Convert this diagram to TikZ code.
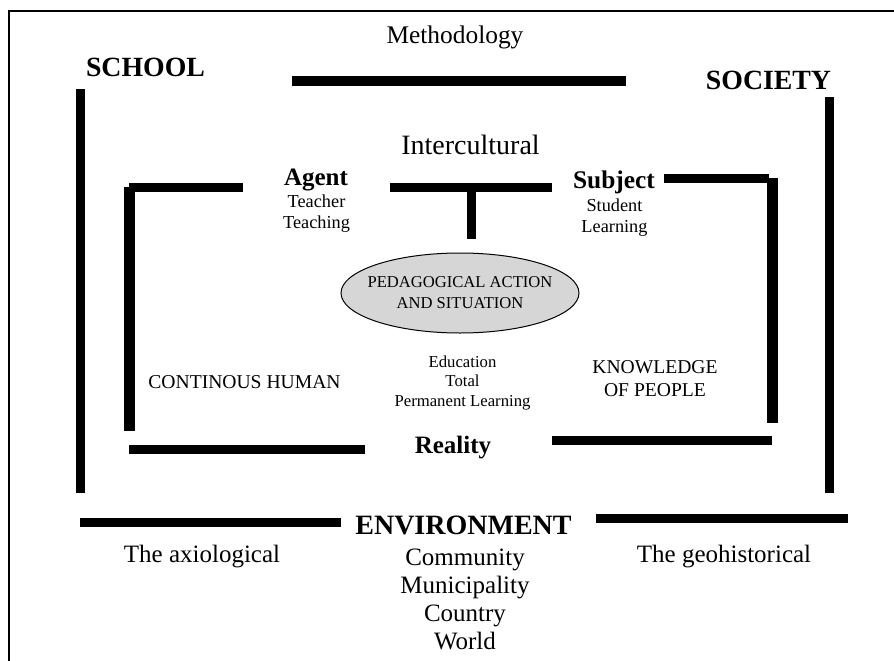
\documentclass[tikz,border=0pt]{standalone}
\usepackage{fontspec}
\setmainfont{Liberation Serif}
\usetikzlibrary{shapes.geometric}
\begin{document}
\begin{tikzpicture}[x=1pt,y=-1pt,
  bar/.style={line width=9pt,line cap=butt},
  thickbar/.style={line width=11pt,line cap=butt},
  lbl/.style={inner sep=0pt,align=center},
  big/.style={lbl,font=\fontsize{25}{28}\selectfont},
  huge/.style={lbl,font=\fontsize{28}{31}\selectfont},
  mid/.style={lbl,font=\fontsize{19.6}{23}\selectfont},
  small/.style={lbl,font=\fontsize{16.7}{19.5}\selectfont},
  tiny/.style={lbl,font=\fontsize{18.3}{21}\selectfont}]
\useasboundingbox (0,0) rectangle (894,661);
% outer frame
\draw[line width=1.4pt] (9,661) -- (9,11) -- (894,11);
% bars
\draw[bar] (292,81) -- (626,81);
\draw[bar] (80.5,89) -- (80.5,493);
\draw[bar] (829,97) -- (829,493);
\draw[bar] (129,187) -- (243,187);
\draw[thickbar] (129.5,187) -- (129.5,431);
\draw[bar] (390,187) -- (552,187);
\draw[bar] (471.5,187) -- (471.5,239);
\draw[bar] (664,178) -- (769,178);
\draw[thickbar] (772.5,178) -- (772.5,423);
\draw[bar] (129,449) -- (365,449);
\draw[bar] (552,440.5) -- (772,440.5);
\draw[bar] (80,522.5) -- (341,522.5);
\draw[bar] (596,518) -- (848,518);
% ellipse
\node[ellipse,draw,line width=1pt,fill=black!16,minimum width=238pt,minimum height=80pt,inner sep=0pt] (ped) at (460,293) {};
\node[lbl,font=\fontsize{16.6}{21}\selectfont] (pedtext) at (ped.center) {PEDAGOGICAL ACTION\\AND SITUATION};
% labels
\node[lbl,font=\fontsize{25.4}{28}\selectfont] (meth) at (455,37) {Methodology};
\node[huge,font=\bfseries\fontsize{27.8}{31}\selectfont] (school) at (145.5,67) {SCHOOL};
\node[huge,font=\bfseries\fontsize{27.8}{31}\selectfont] (society) at (768.5,80) {SOCIETY};
\node[lbl,font=\fontsize{28}{31}\selectfont] (inter) at (470.5,145) {Intercultural};
\node[lbl,font=\bfseries\fontsize{25}{28}\selectfont] (agent) at (316,180) {Agent};
\node[tiny] (teach) at (316.5,214) {Teacher\\Teaching};
\node[lbl,font=\bfseries\fontsize{25.4}{28}\selectfont] (subject) at (614,182) {Subject};
\node[tiny] (stud) at (614.5,218) {Student\\Learning};
\node[mid] (cont) at (244.5,382) {CONTINOUS HUMAN};
\node[small] (edu) at (462.5,383) {Education\\Total\\Permanent Learning};
\node[mid] (know) at (655,379) {KNOWLEDGE\\OF PEOPLE};
\node[lbl,font=\bfseries\fontsize{25}{28}\selectfont] (real) at (453,448) {Reality};
\node[huge,font=\bfseries\fontsize{28}{31}\selectfont] (env) at (463.5,525) {ENVIRONMENT};
\node[big] (axio) at (202,557) {The axiological};
\node[big] (geo) at (724,557) {The geohistorical};
\node[big,anchor=north] (comm) at (465,549) {Community\\Municipality\\Country\\World};
\end{tikzpicture}
\end{document}
